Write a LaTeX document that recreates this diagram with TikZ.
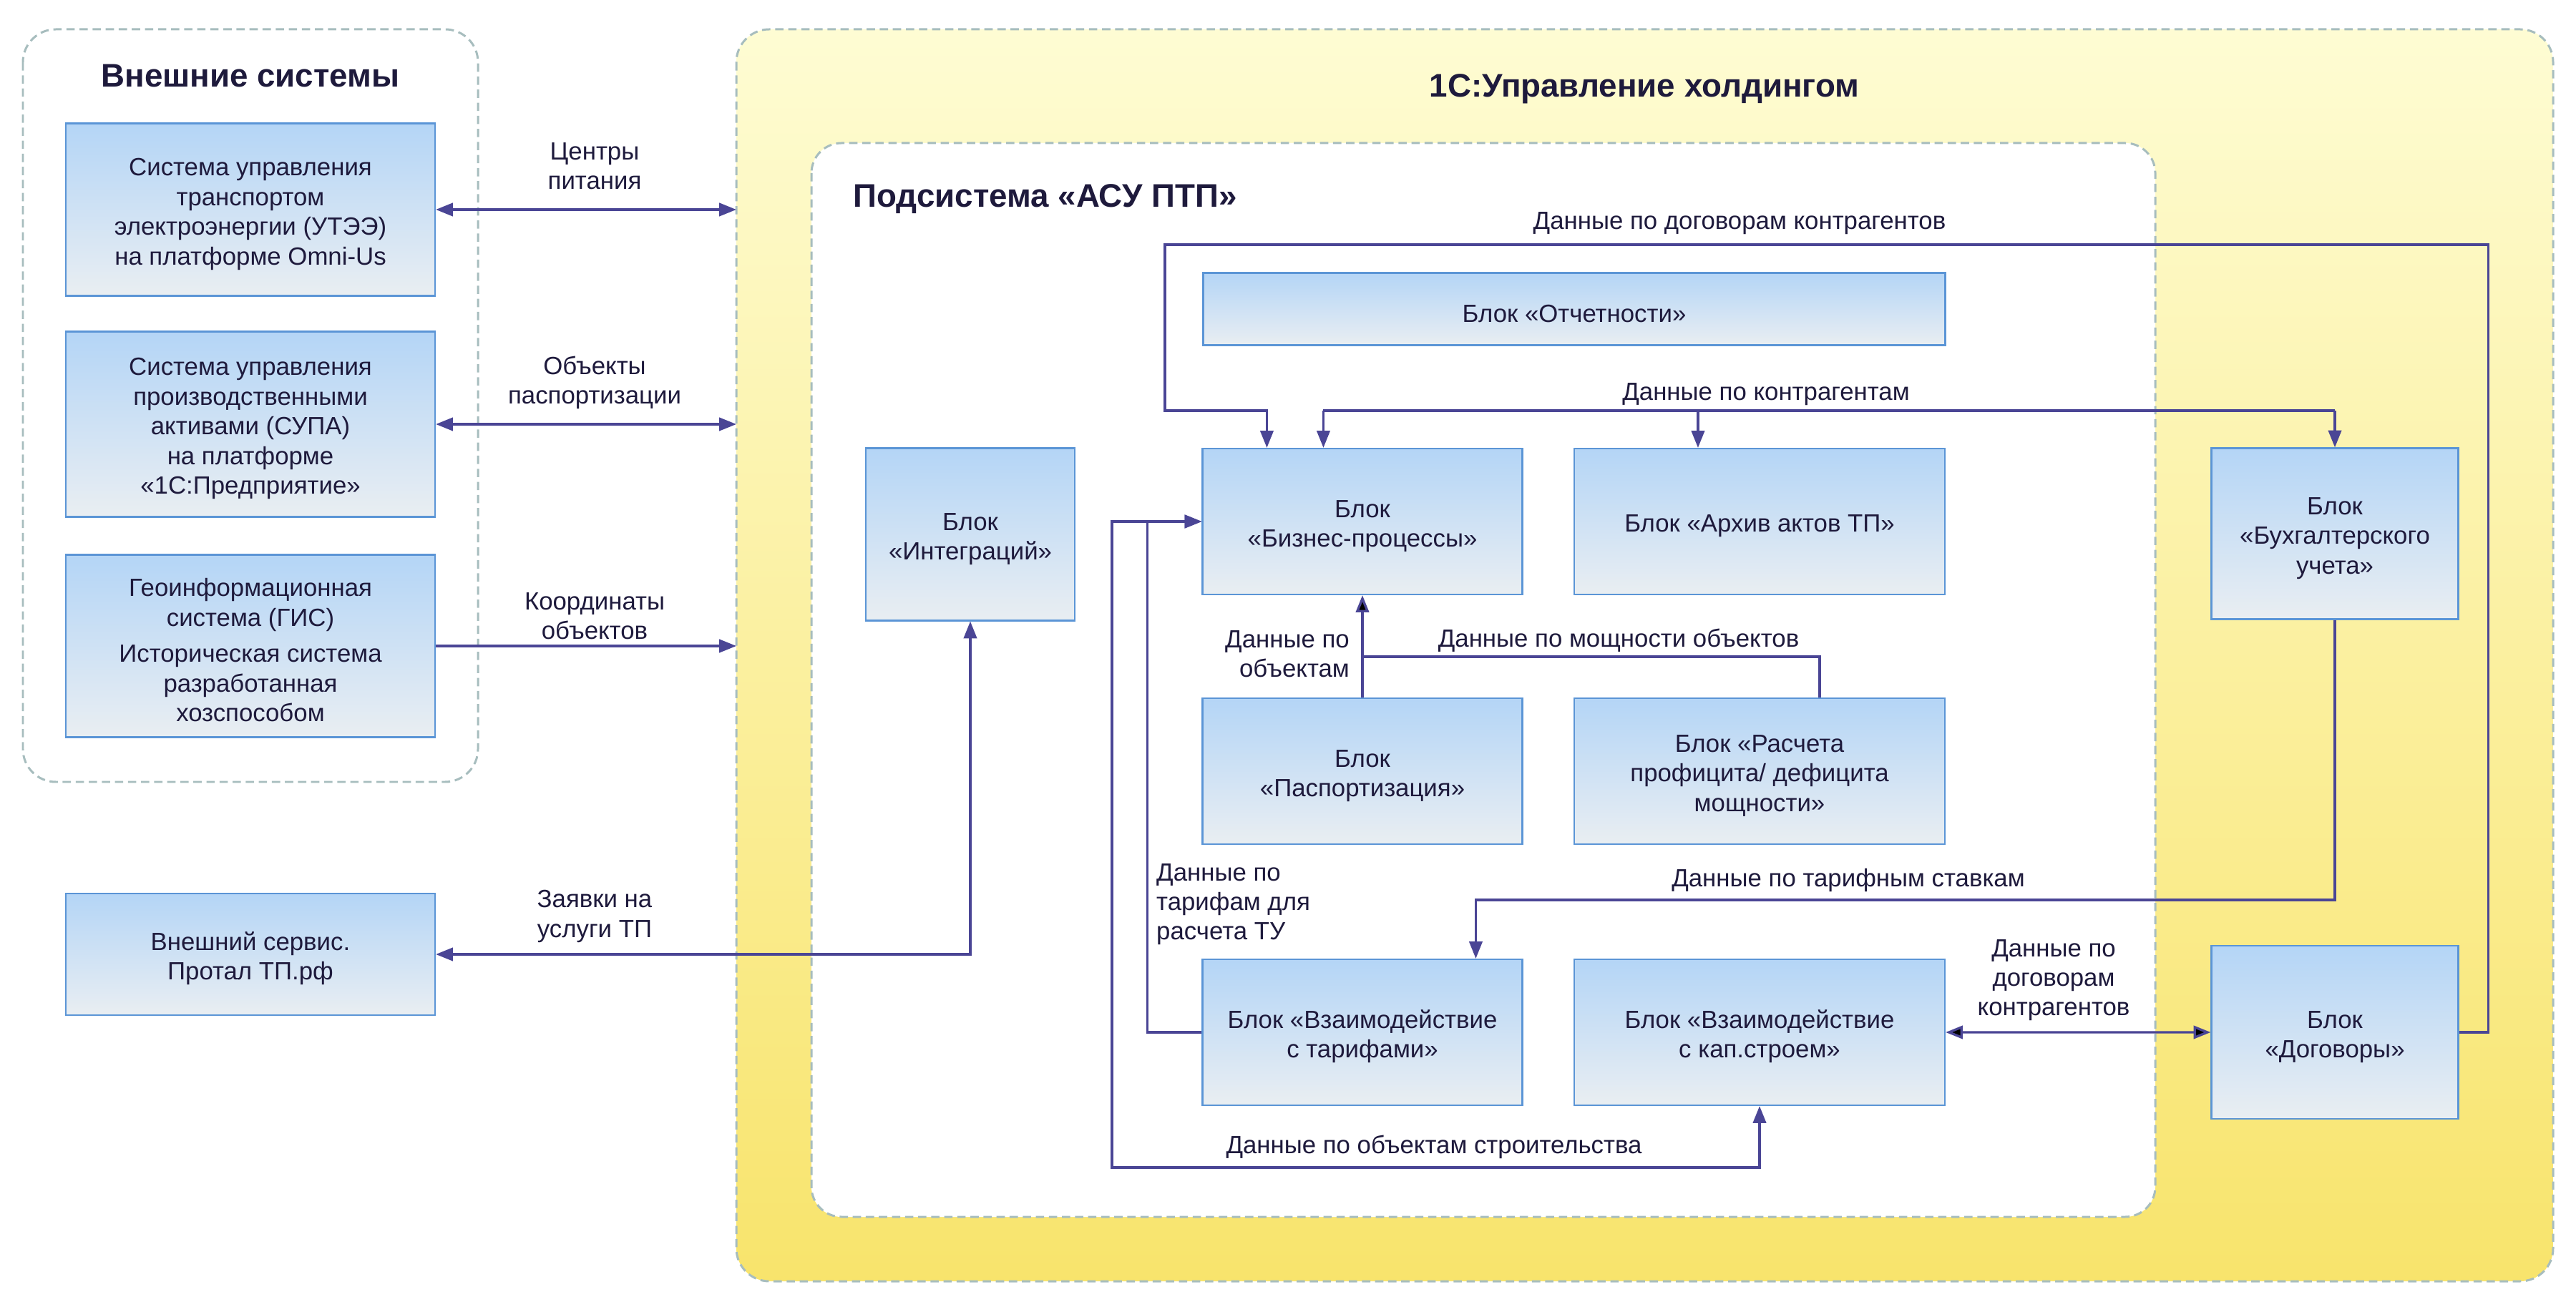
\documentclass[tikz,border=0pt]{standalone}
\usepackage{fontspec}
\setmainfont{Liberation Sans}
\usepackage{tikz}
\usetikzlibrary{arrows.meta,positioning}

\definecolor{boxtop}{HTML}{B4D5F6}
\definecolor{boxbot}{HTML}{E9EEF2}
\definecolor{boxline}{HTML}{5B95D6}
\definecolor{flowc}{HTML}{4A4595}
\definecolor{framec}{HTML}{A7BDBE}
\definecolor{ylwtop}{HTML}{FEFCD3}
\definecolor{ylwbot}{HTML}{F8E46C}
\definecolor{txtc}{HTML}{1E1A3C}
\newcommand{\blkstrut}{\rule{0pt}{10.5pt}}

\begin{document}
\begin{tikzpicture}[x=1cm,y=-1cm,>={Triangle[length=6.8pt,width=5.2pt]},
	blok/.style={rectangle,draw=boxline,line width=0.6pt,top color=boxtop,bottom color=boxbot,
		align=center,text=txtc,font=\fontsize{9.9}{11.8}\selectfont},
	flow/.style={draw=flowc,line width=0.95pt},
	lbl/.style={text=txtc,font=\fontsize{9.9}{11.7}\selectfont,inner sep=1pt},
	ttl/.style={text=txtc,font=\fontsize{13}{15}\selectfont\bfseries,inner sep=0pt},
	frame/.style={draw=framec,line width=0.85pt,dash pattern=on 3.3pt off 1.9pt}]
	\useasboundingbox (0,0) rectangle (36,18.34);

	% containers
	\draw[frame,rounded corners=0.46cm] (0.32,0.41) rectangle (6.68,10.93);
	\draw[frame,rounded corners=0.46cm,top color=ylwtop,bottom color=ylwbot] (10.29,0.41) rectangle (35.68,17.91);
	\draw[frame,rounded corners=0.42cm,fill=white] (11.34,2.00) rectangle (30.12,17.01);
	\coordinate (yl) at (10.29,0);

	\node[ttl] (tExt) at (3.50,1.06) {Внешние системы};
	\node[ttl] (tHold) at (22.98,1.24) {1С:Управление холдингом};
	\node[ttl,anchor=west] (tSub) at (11.92,2.78) {Подсистема «АСУ ПТП»};

	% external systems
	\node[blok,minimum width=5.16cm,minimum height=2.41cm] (utee) at (3.50,2.93)
		{\blkstrut Система управления\\транспортом\\электроэнергии (УТЭЭ)\\на платформе Omni-Us};
	\node[blok,minimum width=5.16cm,minimum height=2.59cm] (supa) [below of=utee,node distance=3cm]
		{\blkstrut Система управления\\производственными\\активами (СУПА)\\на платформе\\«1С:Предприятие»};
	\node[blok,minimum width=5.16cm,minimum height=2.55cm] (gis) [below of=supa,node distance=3.1cm]
		{\blkstrut Геоинформационная\\система (ГИС)\\[2.5pt]Историческая система\\разработанная\\хозспособом};
	\node[blok,minimum width=5.16cm,minimum height=1.70cm] (portal) at (3.50,13.34)
		{\blkstrut Внешний сервис.\\Протал ТП.рф};

	% blocks
	\node[blok,minimum width=2.92cm,minimum height=2.41cm] (integ) at (13.56,7.47) {\blkstrut Блок\\«Интеграций»};
	\node[blok,minimum width=10.37cm,minimum height=1.01cm] (otch) at (22.0,4.32) {\blkstrut Блок «Отчетности»};
	\node[blok,minimum width=4.47cm,minimum height=2.04cm] (biz) at (19.04,7.29) {\blkstrut Блок\\«Бизнес-процессы»};
	\node[blok,minimum width=5.18cm,minimum height=2.04cm] (arh) [right of=biz,node distance=5.55cm] {\blkstrut Блок «Архив актов ТП»};
	\node[blok,minimum width=4.47cm,minimum height=2.04cm] (pasp) [below of=biz,node distance=3.49cm] {\blkstrut Блок\\«Паспортизация»};
	\node[blok,minimum width=5.18cm,minimum height=2.04cm] (rasch) [right of=pasp,node distance=5.55cm] {\blkstrut Блок «Расчета\\профицита/ дефицита\\мощности»};
	\node[blok,minimum width=4.47cm,minimum height=2.04cm] (tarif) [below of=pasp,node distance=3.65cm] {\blkstrut Блок «Взаимодействие\\с тарифами»};
	\node[blok,minimum width=5.18cm,minimum height=2.04cm] (kap) [right of=tarif,node distance=5.55cm] {\blkstrut Блок «Взаимодействие\\с кап.строем»};
	\node[blok,minimum width=3.45cm,minimum height=2.39cm] (buh) at (32.63,7.46) {\blkstrut Блок\\«Бухгалтерского\\учета»};
	\node[blok,minimum width=3.45cm,minimum height=2.42cm] (dogov) at (32.63,14.43) {\blkstrut Блок\\«Договоры»};

	\coordinate (bizIn) at ([xshift=0.91cm]biz.north west);
	\coordinate (kaL) at ([xshift=1.70cm]biz.north west |- 0,5.74);
	\coordinate (arhIn) at ([xshift=1.74cm]arh.north west);
	\coordinate (raschOut) at ([xshift=3.44cm]rasch.north west);
	\coordinate (tarifIn) at ([xshift=3.83cm]tarif.north west);

	% connectors
	\draw[flow,<->] (utee.east) -- (utee.east -| yl);
	\draw[flow,<->] (supa.east) -- (supa.east -| yl);
	\draw[flow,->] (gis.east) -- (gis.east -| yl);
	\draw[flow,<->] (portal.east) -| (integ.south);

	\draw[flow,->] (dogov.east) -- ++(0.41,0) |- (16.28,3.42) -- (16.28,5.74) -| (bizIn);
	\draw[flow] (kaL) -- (buh.north |- kaL);
	\draw[flow,->] (kaL) -- (kaL |- biz.north);
	\draw[flow,->] (arhIn |- kaL) -- (arhIn);
	\draw[flow,->] (buh.north |- kaL) -- (buh.north);

	\path[flow,->]
		(pasp) edge (biz);
	\draw[flow] (raschOut) |- (pasp.north |- 0,9.18);
	\draw[flow,->] (tarif.west) -- ++(-0.76,0) |- (biz.west);
	\draw[flow,<->] (kap.south) |- (15.54,16.32) |- (biz.west);
	\draw[flow,->] (buh.south) |- (tarifIn |- 0,12.58) -- (tarifIn);
	\path[flow,<->]
		(kap) edge (dogov);

	% labels
	\node[lbl,align=center] (lCP) at (8.31,2.32) {Центры\\питания};
	\node[lbl,align=center] (lOP) at (8.31,5.35) {Объекты\\паспортизации};
	\node[lbl,align=center] (lKO) at (8.31,8.61) {Координаты\\объектов};
	\node[lbl,align=center] (lZU) at (8.31,12.81) {Заявки на\\услуги ТП};
	\node[lbl] (lDK) at (24.31,3.12) {Данные по договорам контрагентов};
	\node[lbl] (lKA) at (24.68,5.51) {Данные по контрагентам};
	\node[lbl,align=right,anchor=east] (lPO) at (18.90,9.14) {Данные по\\объектам};
	\node[lbl] (lMO) at (22.62,8.95) {Данные по мощности объектов};
	\node[lbl,align=left,anchor=west] (lTU) at (16.12,12.64) {Данные по\\тарифам для\\расчета ТУ};
	\node[lbl] (lTS) at (25.83,12.31) {Данные по тарифным ставкам};
	\node[lbl,align=center] (lDG) at (28.70,13.70) {Данные по\\договорам\\контрагентов};
	\node[lbl] (lOS) at (20.04,16.03) {Данные по объектам строительства};
\end{tikzpicture}
\end{document}
